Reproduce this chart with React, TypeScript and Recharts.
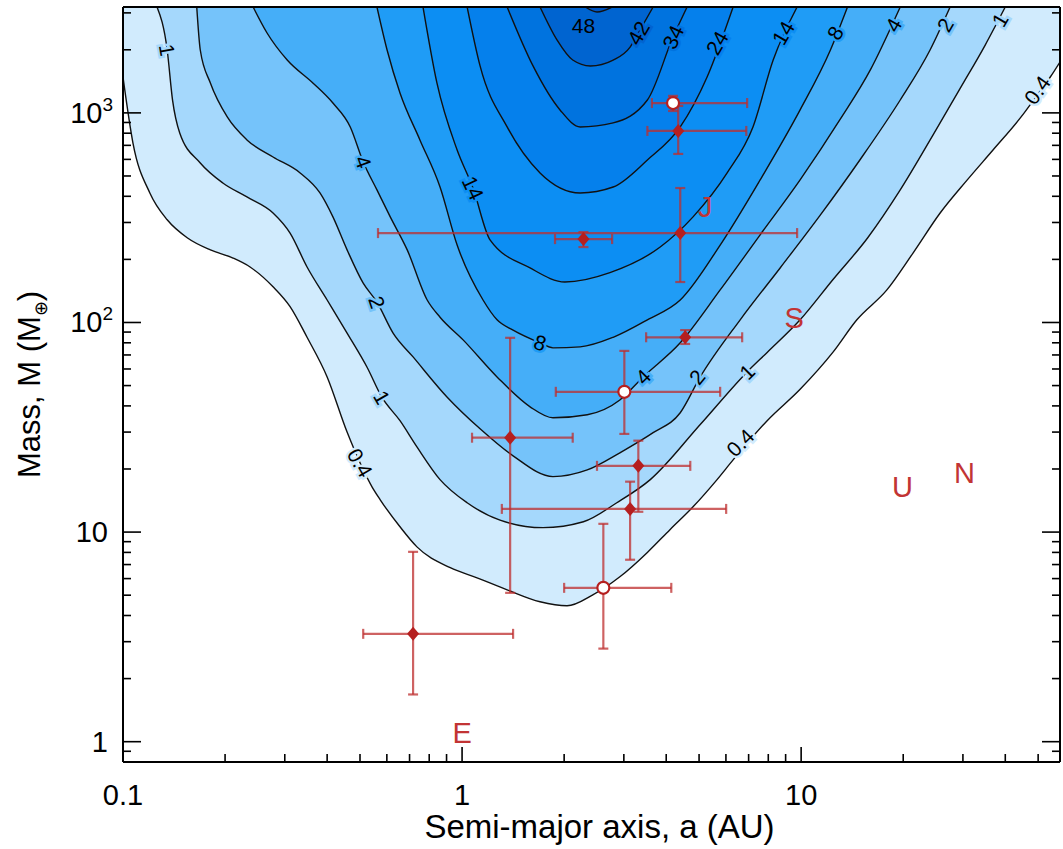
import React from "react";
import { ComposedChart, Area, Scatter, ErrorBar, XAxis, YAxis } from "recharts";

const FONT = "'Liberation Sans', Arial, sans-serif";

// axis ranges
const A_DOMAIN: [number, number] = [0.1, 58];
const M_DOMAIN: [number, number] = [0.8, 3200];
const M_TOP = 3200;

const xMajorTicks = [0.1, 1, 10];
const xMinorTicks = [0.2, 0.3, 0.4, 0.5, 0.6, 0.7, 0.8, 0.9, 2, 3, 4, 5, 6, 7, 8, 9, 20, 30, 40, 50];
const yMajorTicks = [1, 10, 100, 1000];
const yMinorTicks = [0.9, 2, 3, 4, 5, 6, 7, 8, 9, 20, 30, 40, 50, 60, 70, 80, 90, 200, 300, 400, 500, 600, 700, 800, 900, 2000, 3000];
const yTickBase = ["1", "10", "10", "10"];
const yTickPower = ["", "", "2", "3"];

// contour levels and their lower boundaries (a [AU], M [M_earth])
const contourLevels = [0.4, 1, 2, 4, 8, 14, 24, 34, 42, 48];

const c04 = [
  [0.1, 1480], [0.107, 718], [0.12, 415], [0.135, 309], [0.155, 253], [0.181, 222], [0.211, 203],
  [0.237, 184], [0.277, 148], [0.311, 119], [0.349, 85], [0.4, 55], [0.458, 30], [0.543, 16.4],
  [0.573, 14.3], [0.656, 10.6], [0.736, 8.5], [0.923, 6.76], [1.107, 6.05], [1.358, 5.3], [1.698, 4.65],
  [2.04, 4.45], [2.43, 5.02], [2.92, 6.12], [3.52, 8.0], [4.11, 10.3], [4.8, 13.2], [5.65, 17.8],
  [6.3, 22.1], [7.94, 34], [9.93, 48], [12.4, 72], [14.6, 103], [17.9, 143], [21.4, 215], [25.7, 333],
  [30.9, 479], [36.8, 665], [44.3, 946], [49.7, 1217], [54.3, 1483], [58, 1750],
];
const c1 = [
  [0.126, 3200], [0.135, 1995], [0.14, 1150], [0.147, 802], [0.169, 577], [0.197, 463], [0.232, 397],
  [0.277, 333], [0.311, 267], [0.349, 184], [0.4, 128], [0.458, 89], [0.525, 61], [0.58, 44],
  [0.656, 34], [0.736, 25.5], [0.861, 17.8], [1.035, 13.8], [1.294, 11.4], [1.733, 10.5], [2.28, 11.2],
  [2.86, 13.8], [3.59, 17.8], [5.04, 32.6], [6.93, 58.1], [7.94, 72], [9.93, 103], [12.4, 160],
  [15.7, 253], [19.6, 429], [24.5, 785], [29.5, 1315], [34.9, 2107], [40.0, 3200],
];
const c2 = [
  [0.165, 3200], [0.169, 1995], [0.181, 1389], [0.203, 956], [0.232, 743], [0.277, 616], [0.333, 517],
  [0.381, 415], [0.416, 319], [0.458, 222], [0.511, 154], [0.561, 125], [0.626, 89], [0.717, 68.5],
  [0.904, 44], [1.13, 31.1], [1.414, 23.1], [1.854, 18.4], [2.34, 19.8], [2.92, 23.9], [3.66, 29.8],
  [4.4, 37.1], [5.04, 55], [6.61, 103], [8.67, 182], [11.4, 326], [14.9, 596], [19.6, 1152],
  [24.0, 1995], [27.5, 3200],
];
const c4 = [
  [0.242, 3200], [0.266, 2405], [0.305, 1787], [0.363, 1389], [0.416, 1114], [0.468, 857], [0.511, 583],
  [0.561, 429], [0.614, 319], [0.689, 222], [0.789, 128], [0.861, 106], [1.007, 82.6], [1.268, 55],
  [1.587, 39.6], [1.854, 35.1], [2.34, 36.3], [2.92, 42.7], [3.42, 55], [4.4, 80], [5.77, 143],
  [7.57, 262], [9.93, 479], [13.0, 925], [16.0, 1603], [19.6, 3200],
];
const c8 = [
  [0.561, 3200], [0.601, 1995], [0.656, 1245], [0.751, 743], [0.861, 443], [0.967, 234], [1.153, 128],
  [1.268, 103], [1.414, 92], [1.698, 80], [1.854, 75.7], [2.23, 76.5], [2.79, 85], [3.52, 103],
  [4.4, 128], [5.77, 234], [7.57, 479], [9.93, 1033], [12.2, 1995], [13.7, 3200],
];
const c14 = [
  [0.767, 3200], [0.843, 1389], [0.967, 665], [1.077, 438], [1.209, 248], [1.587, 182], [2.01, 156],
  [2.73, 173], [3.84, 229], [4.8, 319], [6.05, 517], [7.21, 857], [8.27, 1787], [9.73, 3200],
];
const c24 = [
  [1.035, 3200], [1.13, 1675], [1.358, 857], [1.698, 517], [2.23, 415], [2.79, 443], [3.52, 596],
  [4.4, 857], [5.28, 1483], [6.3, 3200],
];
const c34 = [
  [1.358, 3200], [1.619, 1675], [1.945, 1033], [2.23, 857], [2.79, 896], [3.52, 1152], [4.19, 2300],
  [4.61, 3200],
];
const c42 = [
  [1.698, 3200], [1.905, 2228], [2.12, 1787], [2.39, 1675], [2.79, 1787], [3.13, 2061], [3.31, 2405],
  [3.66, 3200],
];
const c48 = [[2.31, 3200], [2.5, 3029], [2.77, 3200]];

const contours = [c04, c1, c2, c4, c8, c14, c24, c34, c42, c48];

const bandColors = [
  "#d1ebfd", "#a5d8fc", "#75c3fa", "#45aef8", "#1f9cf6",
  "#0c8ef3", "#0580ec", "#0073df", "#0064d0", "#0054c0",
];

// contour labels: position on the line and contour index
const contourLabels = [
  { a: 2.28, m: 2625, level: 9 },
  { a: 3.31, m: 2405, level: 8 },
  { a: 4.19, m: 2300, level: 7 },
  { a: 5.65, m: 2155, level: 6 },
  { a: 8.85, m: 2405, level: 5 },
  { a: 12.6, m: 2405, level: 4 },
  { a: 18.7, m: 2625, level: 3 },
  { a: 26.6, m: 2625, level: 2 },
  { a: 38.6, m: 2773, level: 1 },
  { a: 49.7, m: 1285, level: 0 },
  { a: 0.135, m: 1995, level: 1 },
  { a: 0.511, m: 583, level: 3 },
  { a: 1.077, m: 438, level: 5 },
  { a: 0.561, m: 125, level: 2 },
  { a: 1.698, m: 80, level: 4 },
  { a: 3.42, m: 55, level: 3 },
  { a: 4.93, m: 55, level: 2 },
  { a: 0.58, m: 44, level: 1 },
  { a: 6.93, m: 58.1, level: 1 },
  { a: 0.5, m: 21.4, level: 0 },
  { a: 6.61, m: 26.7, level: 0 },
];
const contourLabelAngles = [0, -60, -65, -60, -60, -60, -60, -60, -60, -55, 80, 70, 65, 72, 18, -45, -50, 60, -45, 60, -45];

// measured planets with error ranges
const filledPlanets = [
  { a: 4.34, m: 820, aLo: 3.52, aHi: 6.89, mLo: 637, mHi: 1079 },
  { a: 2.28, m: 250, aLo: 1.88, aHi: 2.77, mLo: 229, mHi: 270 },
  { a: 4.4, m: 267, aLo: 0.565, aHi: 9.73, mLo: 156, mHi: 438 },
  { a: 4.55, m: 85, aLo: 3.49, aHi: 6.7, mLo: 79, mHi: 92 },
  { a: 1.386, m: 28.2, aLo: 1.07, aHi: 2.12, mLo: 5.13, mHi: 84.5 },
  { a: 3.31, m: 20.7, aLo: 2.5, aHi: 4.71, mLo: 12.5, mHi: 27.3 },
  { a: 3.13, m: 12.9, aLo: 1.31, aHi: 6.01, mLo: 7.38, mHi: 17.4 },
  { a: 0.717, m: 3.27, aLo: 0.511, aHi: 1.414, mLo: 1.68, mHi: 8.05 },
];
const openPlanets = [
  { a: 4.19, m: 1114, aLo: 3.63, aHi: 6.93, mLo: 1021, mHi: 1205 },
  { a: 3.01, m: 46.7, aLo: 1.89, aHi: 5.77, mLo: 29.4, mHi: 73.2 },
  { a: 2.61, m: 5.42, aLo: 2.0, aHi: 4.14, mLo: 2.78, mHi: 10.95 },
];

// solar system planets
const solarPlanets = [
  { a: 1.0, m: 1.1, name: "E" },
  { a: 5.21, m: 356, name: "J" },
  { a: 9.53, m: 105, name: "S" },
  { a: 19.9, m: 16.4, name: "U" },
  { a: 30.3, m: 19.2, name: "N" },
];

const RED = "#b51f1f";
const BAR = "rgba(190, 45, 45, 0.75)";

const toPoints = (arr: number[][]) => arr.map(([a, m]) => ({ a, m }));
const contourData = contours.map(toPoints);

const xErr = (d: any) => [d.a - d.aLo, d.aHi - d.a];
const yErr = (d: any) => [d.m - d.mLo, d.mHi - d.m];

const allXTicks = [...xMajorTicks, ...xMinorTicks].sort((p, q) => p - q);
const allYTicks = [...yMajorTicks, ...yMinorTicks].sort((p, q) => p - q);

const BottomTick = (props: any) => {
  const { x, y, payload } = props;
  const major = xMajorTicks.includes(payload.value);
  return (
    <g>
      <line x1={x} x2={x} y1={y} y2={y - (major ? 15 : 8)} stroke="#000" strokeWidth={1.6} />
      {major && (
        <text x={x} y={y + 43} textAnchor="middle" fontSize={29} fontFamily={FONT} fill="#000">
          {String(payload.value)}
        </text>
      )}
    </g>
  );
};

const TopTick = (props: any) => {
  const { x, y, payload } = props;
  const major = xMajorTicks.includes(payload.value);
  return <line x1={x} x2={x} y1={y} y2={y + (major ? 15 : 8)} stroke="#000" strokeWidth={1.6} />;
};

const LeftTick = (props: any) => {
  const { x, y, payload } = props;
  const i = yMajorTicks.indexOf(payload.value);
  const major = i >= 0;
  return (
    <g>
      <line x1={x} x2={x + (major ? 18 : 8)} y1={y} y2={y} stroke="#000" strokeWidth={1.6} />
      {major && (
        <text
          x={yTickPower[i] ? x - 10 : x - 15}
          y={y + 10}
          textAnchor="end"
          fontSize={29}
          fontFamily={FONT}
          fill="#000"
        >
          {yTickBase[i]}
          {yTickPower[i] && (
            <tspan dy={-12} fontSize={19}>
              {yTickPower[i]}
            </tspan>
          )}
        </text>
      )}
    </g>
  );
};

const RightTick = (props: any) => {
  const { x, y, payload } = props;
  const major = yMajorTicks.includes(payload.value);
  return <line x1={x} x2={x - (major ? 18 : 8)} y1={y} y2={y} stroke="#000" strokeWidth={1.6} />;
};

const XTitle = (props: any) => {
  const { x, y, width } = props.viewBox;
  return (
    <text x={x + width / 2 + 8} y={y + 76} textAnchor="middle" fontSize={33} fontFamily={FONT} fill="#000">
      Semi-major axis, a (AU)
    </text>
  );
};

const YTitle = (props: any) => {
  const { y, height } = props.viewBox;
  const cx = 40;
  const cy = y + height / 2;
  return (
    <text
      x={cx}
      y={cy}
      transform={`rotate(-90 ${cx} ${cy})`}
      textAnchor="middle"
      fontSize={31}
      fontFamily={FONT}
      fill="#000"
    >
      Mass, M (M
      <tspan dy={7} fontSize={18}>
        ⊕
      </tspan>
      <tspan dy={-7}>)</tspan>
    </text>
  );
};

const ContourLabel = (props: any) => {
  const { cx, cy, payload } = props;
  const i = contourLabels.findIndex((l) => l.a === payload.a && l.m === payload.m);
  const angle = contourLabelAngles[i] ?? 0;
  const halo = bandColors[Math.min(payload.level, 8)];
  return (
    <text
      x={cx}
      y={cy}
      transform={`rotate(${angle} ${cx} ${cy})`}
      textAnchor="middle"
      dominantBaseline="central"
      fontSize={21}
      fontFamily={FONT}
      fill="#000"
      stroke={halo}
      strokeWidth={5}
      paintOrder="stroke"
    >
      {String(contourLevels[payload.level])}
    </text>
  );
};

const Diamond = (props: any) => {
  const { cx, cy } = props;
  return <path d={`M${cx},${cy - 7}L${cx + 6},${cy}L${cx},${cy + 7}L${cx - 6},${cy}Z`} fill={RED} />;
};

const OpenCircle = (props: any) => {
  const { cx, cy } = props;
  return <circle cx={cx} cy={cy} r={6} fill="#fff" stroke={RED} strokeWidth={2.2} />;
};

const PlanetLetter = (props: any) => {
  const { cx, cy, payload } = props;
  return (
    <text
      x={cx}
      y={cy}
      textAnchor="middle"
      dominantBaseline="central"
      fontSize={29}
      fontFamily={FONT}
      fill="#c23434"
    >
      {payload.name}
    </text>
  );
};

export default function App() {
  return (
    <div style={{ position: "absolute", left: 0, top: 0, width: 1063, height: 849, background: "#fff" }}>
      <ComposedChart width={1063} height={849} margin={{ top: 6, right: 2, bottom: 1, left: 0 }}>
        {contourData.map((d, i) => (
          <Area
            key={`c${i}`}
            data={d}
            dataKey="m"
            type="monotone"
            baseValue={M_TOP}
            fill={bandColors[i]}
            fillOpacity={1}
            stroke="#111"
            strokeWidth={1.4}
            dot={false}
            activeDot={false}
            isAnimationActive={false}
          />
        ))}
        <Scatter data={contourLabels} dataKey="m" shape={(p: any) => <ContourLabel {...p} />} isAnimationActive={false} />
        <Scatter data={filledPlanets} dataKey="m" shape={(p: any) => <Diamond {...p} />} isAnimationActive={false}>
          <ErrorBar dataKey={xErr} direction="x" width={5} stroke={BAR} strokeWidth={2.2} />
          <ErrorBar dataKey={yErr} direction="y" width={5} stroke={BAR} strokeWidth={2.2} />
        </Scatter>
        <Scatter data={openPlanets} dataKey="m" shape={(p: any) => <OpenCircle {...p} />} isAnimationActive={false}>
          <ErrorBar dataKey={xErr} direction="x" width={5} stroke={BAR} strokeWidth={2.2} />
          <ErrorBar dataKey={yErr} direction="y" width={5} stroke={BAR} strokeWidth={2.2} />
        </Scatter>
        <Scatter data={solarPlanets} dataKey="m" shape={(p: any) => <PlanetLetter {...p} />} isAnimationActive={false} />
        <XAxis
          dataKey="a"
          type="number"
          scale="log"
          domain={A_DOMAIN}
          allowDataOverflow
          ticks={allXTicks}
          interval={0}
          tickSize={0}
          tickMargin={0}
          tickLine={false}
          tick={(p: any) => <BottomTick {...p} />}
          axisLine={{ stroke: "#000", strokeWidth: 2 }}
          height={86}
          label={<XTitle />}
        />
        <XAxis
          xAxisId="top"
          orientation="top"
          type="number"
          scale="log"
          domain={A_DOMAIN}
          allowDataOverflow
          ticks={allXTicks}
          interval={0}
          tickSize={0}
          tickMargin={0}
          tickLine={false}
          tick={(p: any) => <TopTick {...p} />}
          axisLine={{ stroke: "#000", strokeWidth: 2 }}
          height={1}
        />
        <YAxis
          dataKey="m"
          type="number"
          scale="log"
          domain={M_DOMAIN}
          allowDataOverflow
          ticks={allYTicks}
          interval={0}
          tickSize={0}
          tickMargin={0}
          tickLine={false}
          tick={(p: any) => <LeftTick {...p} />}
          axisLine={{ stroke: "#000", strokeWidth: 2 }}
          width={123}
          label={<YTitle />}
        />
        <YAxis
          yAxisId="right"
          orientation="right"
          type="number"
          scale="log"
          domain={M_DOMAIN}
          allowDataOverflow
          ticks={allYTicks}
          interval={0}
          tickSize={0}
          tickMargin={0}
          tickLine={false}
          tick={(p: any) => <RightTick {...p} />}
          axisLine={{ stroke: "#000", strokeWidth: 2 }}
          width={1}
        />
      </ComposedChart>
    </div>
  );
}
